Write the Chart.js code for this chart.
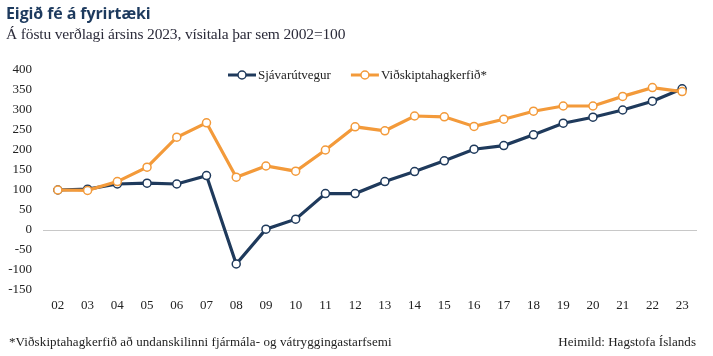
<!DOCTYPE html>
<html>
<head>
<meta charset="utf-8">
<script src="https://cdn.jsdelivr.net/npm/chart.js@4/dist/chart.umd.min.js"></script>
<style>
  html,body{margin:0;padding:0;background:#fff;}
  #wrap{position:relative;width:713px;height:356px;overflow:hidden;}
  #c{position:absolute;left:0;top:0;}
  .t{position:absolute;white-space:nowrap;}
  #title{left:6px;top:2px;font-family:"Open Sans",sans-serif;font-weight:700;font-size:16px;color:#1d3a5e;letter-spacing:-0.1px;}
  #sub{left:6px;top:25px;font-family:"Liberation Serif",serif;font-size:15.5px;color:#2b2b3a;letter-spacing:-0.15px;}
  #foot{left:9px;top:334px;font-family:"Liberation Serif",serif;font-size:13px;color:#222;letter-spacing:0.1px;}
  #src{right:17px;top:334px;font-family:"Liberation Serif",serif;font-size:13px;color:#222;letter-spacing:0.05px;}
</style>
</head>
<body>
<div id="wrap">
  <canvas id="c" width="713" height="356"></canvas>
  <div class="t" id="title">Eigið fé á fyrirtæki</div>
  <div class="t" id="sub">Á föstu verðlagi ársins 2023, vísitala þar sem 2002=100</div>
  <div class="t" id="foot">*Viðskiptahagkerfið að undanskilinni fjármála- og vátryggingastarfsemi</div>
  <div class="t" id="src">Heimild: Hagstofa Íslands</div>
</div>
<script>
const years = ["02","03","04","05","06","07","08","09","10","11","12","13","14","15","16","17","18","19","20","21","22","23"];
const sjavarutvegur = [100,102,115,117,115,136,-85,2,27,91,91,121,146,173,202,211,238,267,282,300,322,353];
const vidskiptahagkerfid = [100,99,121,157,232,268,132,160,147,200,258,248,285,283,259,277,297,310,310,334,356,346];
const seriesNames = ["Sjávarútvegur","Viðskiptahagkerfið*"];
const seriesColors = ["#1f3a5c","#f39a3a"];
const yMin = -150, yMax = 400, yStep = 50;

const legendPlugin = {
  id: 'customLegend',
  afterDraw(chart) {
    const ctx = chart.ctx;
    ctx.save();
    ctx.font = '13px "Liberation Serif", serif';
    ctx.textBaseline = 'middle';
    const y = 75;
    const lineW = 28, gapText = 2, gapItem = 20;
    const items = chart.data.datasets.map(ds => ({label: ds.label, color: ds.borderColor, w: lineW + gapText + ctx.measureText(ds.label).width}));
    const total = items.reduce((s, it) => s + it.w, 0) + gapItem * (items.length - 1);
    let x = 357.5 - total / 2;
    items.forEach(it => {
      ctx.strokeStyle = it.color; ctx.lineWidth = 3;
      ctx.beginPath(); ctx.moveTo(x, y); ctx.lineTo(x + lineW, y); ctx.stroke();
      ctx.beginPath(); ctx.arc(x + lineW / 2, y, 4, 0, Math.PI * 2);
      ctx.fillStyle = '#fff'; ctx.fill(); ctx.lineWidth = 1.5; ctx.stroke();
      ctx.fillStyle = '#222';
      ctx.fillText(it.label, x + lineW + gapText, y + 1);
      x += it.w + gapItem;
    });
    ctx.restore();
  }
};

new Chart(document.getElementById('c'), {
  type: 'line',
  data: {
    labels: years,
    datasets: [
      {label: seriesNames[0], data: sjavarutvegur, order: 2, borderColor: seriesColors[0], backgroundColor: '#fff', borderWidth: 3.2,
       pointRadius: 4, pointBorderWidth: 1.5, pointBackgroundColor: '#fff', pointBorderColor: seriesColors[0], tension: 0},
      {label: seriesNames[1], data: vidskiptahagkerfid, order: 1, borderColor: seriesColors[1], backgroundColor: '#fff', borderWidth: 3.2,
       pointRadius: 4, pointBorderWidth: 1.5, pointBackgroundColor: '#fff', pointBorderColor: seriesColors[1], tension: 0}
    ]
  },
  options: {
    responsive: false,
    animation: false,
    devicePixelRatio: 1,
    layout: {padding: {top: 70, right: 16, bottom: 36, left: 0}},
    plugins: {legend: {display: false}, tooltip: {enabled: false}},
    scales: {
      x: {
        offset: true,
        grid: {display: false, drawTicks: false},
        border: {display: false},
        ticks: {color: '#222', font: {family: '"Liberation Serif", serif', size: 13}, padding: 8, maxRotation: 0, autoSkip: false},
        afterFit(s) { s.height = 30; }
      },
      y: {
        min: yMin, max: yMax,
        grid: {drawTicks: false, color: c => c.tick && c.tick.value === 0 ? '#c8c8c8' : 'rgba(0,0,0,0)', lineWidth: 1},
        border: {display: false},
        ticks: {stepSize: yStep, color: '#222', font: {family: '"Liberation Serif", serif', size: 13}, padding: 11},
        afterFit(s) { s.width = 43; }
      }
    }
  },
  plugins: [legendPlugin]
});
</script>
</body>
</html>
